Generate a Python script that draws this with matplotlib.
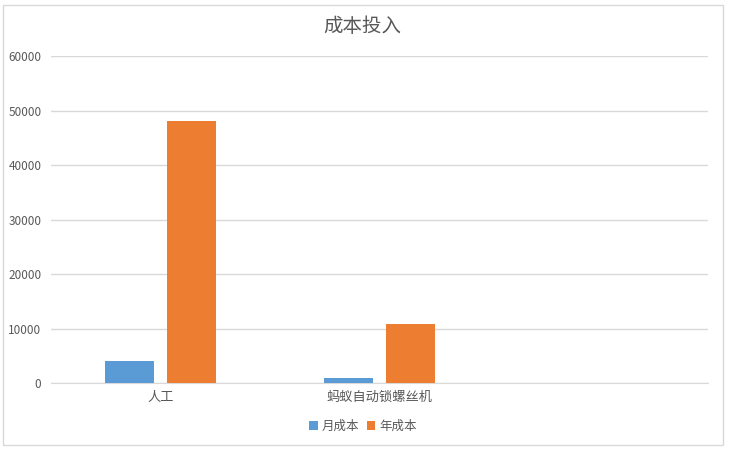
import matplotlib.pyplot as plt
from matplotlib.patches import Rectangle
import numpy as np

plt.rcParams['font.family'] = ['Noto Sans CJK SC', 'DejaVu Sans']

## données
categories = ['人工', '蚂蚁自动锁螺丝机']
yue_chengben = [4000, 900]
nian_chengben = [48000, 10800]
series_names = ['月成本', '年成本']
yticks = [0, 10000, 20000, 30000, 40000, 50000, 60000]

blue = '#5b9bd5'
orange = '#ed7d31'
grey_txt = '#595959'

fig = plt.figure(figsize=(7.3, 4.49), dpi=100)
ax = fig.add_axes([0.0699, 0.147, 0.900, 0.728])

x = np.arange(len(categories))
w = 0.226
ax.bar(x - 0.142, yue_chengben, w, color=blue, label=series_names[0], zorder=3)
ax.bar(x + 0.142, nian_chengben, w, color=orange, label=series_names[1], zorder=3)

ax.set_xlim(-0.5, 2.5)
ax.set_ylim(0, 60000)
ax.set_yticks(yticks)
ax.set_yticklabels([str(v) for v in yticks], fontsize=8.5, color=grey_txt)
ax.set_xticks(x)
ax.set_xticklabels(categories, fontsize=9.5, color=grey_txt)
ax.tick_params(axis='both', length=0)
ax.tick_params(axis='y', pad=7)
ax.tick_params(axis='x', pad=6)
ax.grid(axis='y', color='#d9d9d9', linewidth=1, zorder=0)
for s in ['top', 'right', 'left']:
    ax.spines[s].set_visible(False)
ax.spines['bottom'].set_color('#d9d9d9')

fig.text(0.497, 0.942, '成本投入', fontsize=14, color=grey_txt, ha='center', va='center')

leg = fig.legend(loc='center', bbox_to_anchor=(0.497, 0.051), ncol=2, frameon=False,
                 fontsize=9, handlelength=0.7, handleheight=0.7, handletextpad=0.3,
                 columnspacing=0.6)
for t in leg.get_texts():
    t.set_color(grey_txt)

# cadre du graphique
fig.patches.append(Rectangle((0.0041, 0.0089), 0.986, 0.980, transform=fig.transFigure,
                             fill=False, edgecolor='#d9d9d9', linewidth=1))

fig.savefig('out.png', dpi=100)
